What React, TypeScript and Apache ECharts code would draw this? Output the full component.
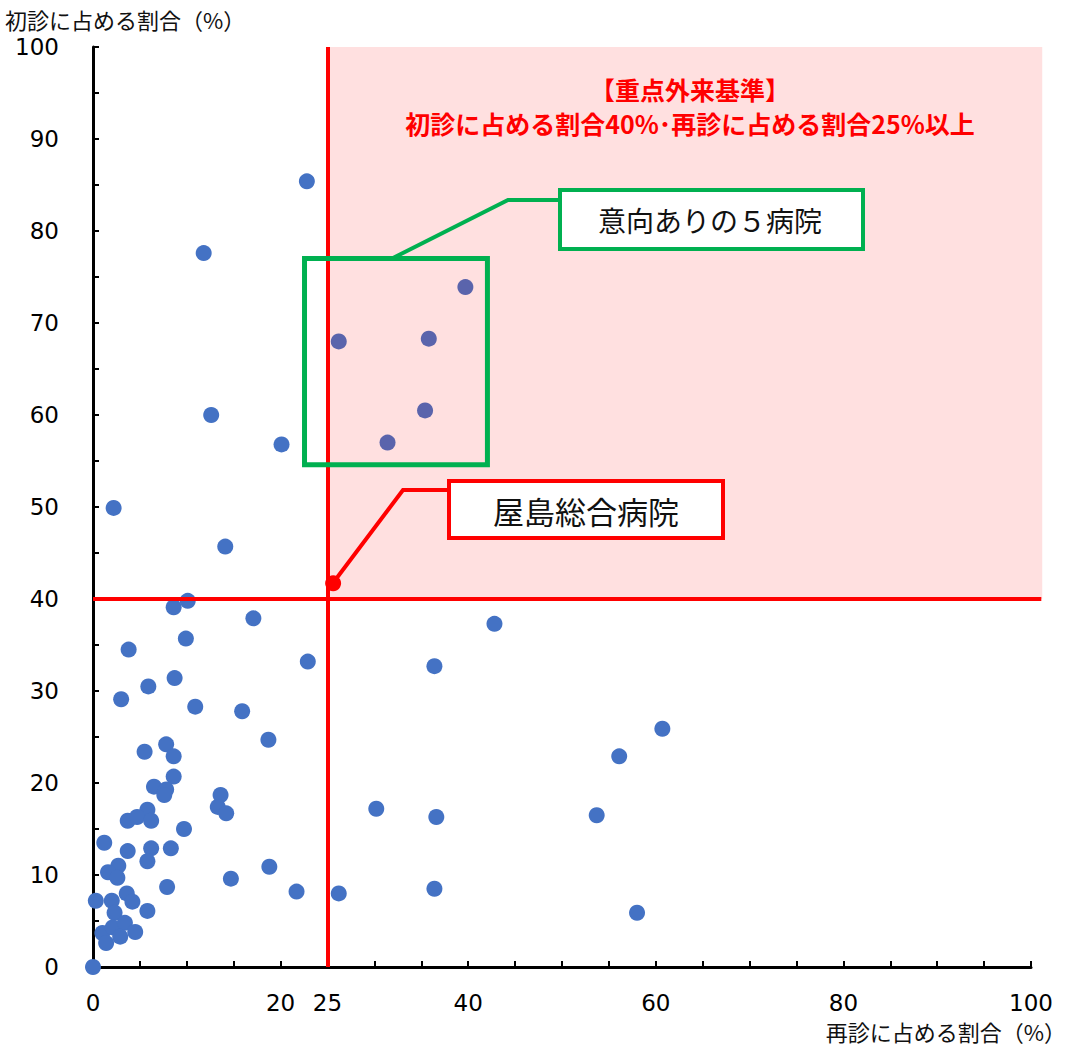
import React, { useEffect, useRef } from "react";
import * as echarts from "echarts";

// 再診に占める割合(%) , 初診に占める割合(%)
const hospitals: [number, number][] = [
  [22.8, 85.4], [11.8, 77.6], [12.6, 60.0], [20.1, 56.8], [2.2, 49.9],
  [14.1, 45.7], [10.1, 39.8], [8.6, 39.1], [17.1, 37.9], [9.9, 35.7],
  [3.8, 34.5], [22.9, 33.2], [5.9, 30.5], [3.0, 29.1], [8.7, 31.4],
  [10.9, 28.3], [15.9, 27.8], [18.7, 24.7], [7.8, 24.2], [5.5, 23.4],
  [8.6, 22.9], [8.6, 20.7], [6.5, 19.6], [7.8, 19.3], [7.6, 18.7],
  [13.6, 18.7], [13.3, 17.4], [14.2, 16.7], [5.8, 17.1], [3.7, 15.9],
  [4.7, 16.3], [6.2, 15.9], [9.7, 15.0], [1.2, 13.5], [3.7, 12.6],
  [6.2, 12.9], [8.3, 12.9], [5.8, 11.5], [2.7, 11.0], [1.6, 10.3],
  [2.6, 9.7], [7.9, 8.7], [14.7, 9.6], [18.8, 10.9], [21.7, 8.2],
  [26.2, 8.0], [30.2, 17.2], [36.6, 16.3], [36.4, 32.7], [42.8, 37.3],
  [36.4, 8.5], [53.7, 16.5], [56.1, 22.9], [60.7, 25.9], [58.0, 5.9],
  [3.6, 8.0], [4.2, 7.1], [0.3, 7.2], [2.0, 7.2], [5.8, 6.1],
  [2.3, 5.9], [1.0, 3.7], [2.1, 4.3], [3.4, 4.8], [4.5, 3.8],
  [2.9, 3.3], [1.4, 2.6], [0, 0],
];

// 意向ありの５病院
const targetHospitals: [number, number][] = [
  [39.7, 73.9], [26.2, 68.0], [35.8, 68.3], [35.4, 60.5], [31.4, 57.0],
];

// 屋島総合病院
const yashima: [number, number][] = [[25.6, 41.7]];

// 基準線
const criteriaX = 25;
const criteriaY = 40;
// 基準エリアは軸の右端より少し先まで塗られている
const areaRightEdge = 101.2;

// 意向ありの5病院 の枠
const greenBox: [number, number][] = [[22.55, 77.0], [42.05, 54.6]];

const xLabelValues = [0, 20, 25, 40, 60, 80, 100];
const yLabelValues = [0, 10, 20, 30, 40, 50, 60, 70, 80, 90, 100];

const titleLines = ["【重点外来基準】", "初診に占める割合40%･再診に占める割合25%以上"];
const yAxisTitle = "初診に占める割合（%）";
const xAxisTitle = "再診に占める割合（%）";

const JP = "'Noto Sans CJK JP', sans-serif";
const NUM = "'DejaVu Sans', sans-serif";
const BLUE = "#4472C4";
const RED = "#FF0000";
const GREEN = "#00B050";
const PINK = "rgba(255,0,0,0.12)";

function baseGraphics(): any[] {
  return [
    {
      type: "text",
      z: 100,
      x: 5,
      y: 19,
      style: { text: yAxisTitle, fontSize: 22, fontFamily: JP, fill: "#111", align: "left", verticalAlign: "middle" },
    },
    {
      type: "text",
      z: 100,
      x: 1066,
      y: 1031,
      style: { text: xAxisTitle, fontSize: 22, fontFamily: JP, fill: "#111", align: "right", verticalAlign: "middle" },
    },
    {
      type: "text",
      z: 100,
      x: 690,
      y: 89,
      style: { text: titleLines[0], fontSize: 25, fontWeight: "bold", fontFamily: JP, fill: RED, align: "center", verticalAlign: "middle" },
    },
    {
      type: "text",
      z: 100,
      x: 690,
      y: 123,
      style: { text: titleLines[1], fontSize: 25, fontWeight: "bold", fontFamily: JP, fill: RED, align: "center", verticalAlign: "middle" },
    },
    {
      type: "polyline",
      z: 100,
      shape: { points: [[393, 258], [508, 200], [558, 200]] },
      style: { stroke: GREEN, lineWidth: 4, fill: null },
    },
    {
      type: "rect",
      z: 100,
      shape: { x: 560, y: 190, width: 303, height: 59 },
      style: { fill: "#fff", stroke: GREEN, lineWidth: 4 },
    },
    {
      type: "text",
      z: 101,
      x: 710,
      y: 220,
      style: { text: "意向ありの５病院", fontSize: 28, fontFamily: JP, fill: "#111", align: "center", verticalAlign: "middle" },
    },
    {
      type: "polyline",
      z: 100,
      shape: { points: [[333, 583], [403, 490], [449, 490]] },
      style: { stroke: RED, lineWidth: 4, fill: null },
    },
    {
      type: "rect",
      z: 100,
      shape: { x: 449, y: 481, width: 274, height: 57 },
      style: { fill: "#fff", stroke: RED, lineWidth: 4 },
    },
    {
      type: "text",
      z: 101,
      x: 586,
      y: 510,
      style: { text: "屋島総合病院", fontSize: 31, fontFamily: JP, fill: "#111", align: "center", verticalAlign: "middle" },
    },
  ];
}

export default function App() {
  const ref = useRef<HTMLDivElement>(null);
  useEffect(() => {
    const chart = echarts.init(ref.current!, null, { renderer: "svg" });
    chart.setOption({
      animation: false,
      backgroundColor: "#ffffff",
      grid: { left: 93, right: 41, top: 47, bottom: 79 },
      xAxis: {
        type: "value",
        min: 0,
        max: 100,
        interval: 5,
        splitLine: { show: false },
        axisLine: { show: true, onZero: false, lineStyle: { color: "#000", width: 3 } },
        axisTick: { show: true, inside: true, length: 6, lineStyle: { color: "#000", width: 2 } },
        axisLabel: {
          margin: 24,
          fontSize: 23,
          fontFamily: NUM,
          color: "#000",
          formatter: (v: number) => (xLabelValues.includes(v) ? String(v) : ""),
        },
      },
      yAxis: {
        type: "value",
        min: 0,
        max: 100,
        interval: 5,
        splitLine: { show: false },
        axisLine: { show: true, onZero: false, lineStyle: { color: "#000", width: 3 } },
        axisTick: { show: true, inside: true, length: 6, lineStyle: { color: "#000", width: 2 } },
        axisLabel: {
          margin: 34,
          fontSize: 23,
          fontFamily: NUM,
          color: "#000",
          formatter: (v: number) => (yLabelValues.includes(v) ? String(v) : ""),
        },
      },
      series: [
        {
          name: "病院",
          type: "scatter",
          z: 2,
          symbolSize: 16,
          itemStyle: { color: BLUE, opacity: 1 },
          data: hospitals,
        },
        {
          name: "意向ありの５病院",
          type: "scatter",
          z: 2,
          symbolSize: 16,
          itemStyle: { color: BLUE, opacity: 1 },
          data: targetHospitals,
        },
        {
          name: "重点外来基準",
          type: "scatter",
          z: 4,
          data: [],
          silent: true,
          markLine: {
            silent: true,
            z: 4,
            symbol: ["none", "none"],
            label: { show: false },
            lineStyle: { color: RED, width: 4, type: "solid" },
            data: [
              [{ coord: [0, criteriaY] }, { coord: [100, criteriaY] }],
              [{ coord: [criteriaX, 0] }, { coord: [criteriaX, 100] }],
            ],
          },
        },
        {
          name: "枠",
          type: "scatter",
          z: 5,
          data: [],
          silent: true,
          markArea: {
            silent: true,
            z: 5,
            itemStyle: { color: "rgba(0,0,0,0)", borderColor: GREEN, borderWidth: 5 },
            label: { show: false },
            data: [[{ coord: greenBox[0] }, { coord: greenBox[1] }]],
          },
        },
        {
          name: "屋島総合病院",
          type: "scatter",
          z: 7,
          symbolSize: 16,
          itemStyle: { color: RED, opacity: 1 },
          data: yashima,
        },
      ],
      graphic: baseGraphics(),
    });

    // criteria area: drawn through the axis scales, a little beyond the axis end as in the original
    const areaTopLeft = chart.convertToPixel({ gridIndex: 0 }, [criteriaX, 100]) as number[];
    const areaBottomRight = chart.convertToPixel({ gridIndex: 0 }, [areaRightEdge, criteriaY]) as number[];
    const axisEnd = chart.convertToPixel({ gridIndex: 0 }, [100, criteriaY]) as number[];
    const lineEnd = chart.convertToPixel({ gridIndex: 0 }, [areaRightEdge - 0.1, criteriaY]) as number[];
    chart.setOption({
      graphic: [
        ...baseGraphics(),
        {
          type: "rect",
          z: 3,
          silent: true,
          shape: {
            x: areaTopLeft[0],
            y: areaTopLeft[1],
            width: areaBottomRight[0] - areaTopLeft[0],
            height: areaBottomRight[1] - areaTopLeft[1],
          },
          style: { fill: PINK },
        },
        {
          type: "line",
          z: 4,
          silent: true,
          shape: { x1: axisEnd[0] - 2, y1: axisEnd[1], x2: lineEnd[0], y2: lineEnd[1] },
          style: { stroke: RED, lineWidth: 4 },
        },
      ],
    });
    return () => chart.dispose();
  }, []);
  return (
    <div
      ref={ref}
      style={{ position: "fixed", left: 0, top: 0, width: 1072, height: 1046, background: "#fff" }}
    />
  );
}
